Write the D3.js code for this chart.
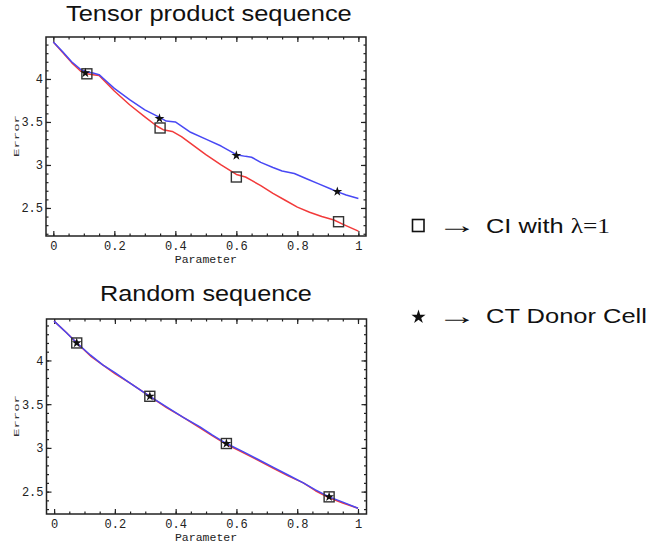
<!DOCTYPE html>
<html>
<head>
<meta charset="utf-8">
<script src="https://cdn.jsdelivr.net/npm/d3@7"></script>
<style>
  body { margin: 0; background: #fff; }
  svg { display: block; }
</style>
</head>
<body>
<div id="main"></div>
<script>
/*********************************************************
 * Data
 *********************************************************/

const xTicks = [0, 0.2, 0.4, 0.6, 0.8, 1];
const yTicks = [2.5, 3, 3.5, 4];

// Tensor product sequence
const tensorBlueX = [0, 0.03, 0.06, 0.09, 0.11, 0.13, 0.15, 0.175, 0.2, 0.25, 0.3, 0.35, 0.37, 0.4, 0.45, 0.5, 0.55, 0.6, 0.63, 0.65, 0.68, 0.72, 0.75, 0.79, 0.83, 0.87, 0.91, 0.93, 0.96, 1.0];
const tensorBlueY = [4.43, 4.32, 4.2, 4.11, 4.08, 4.07, 4.05, 3.97, 3.89, 3.76, 3.64, 3.55, 3.51, 3.5, 3.38, 3.3, 3.22, 3.12, 3.1, 3.09, 3.03, 2.97, 2.93, 2.9, 2.84, 2.78, 2.72, 2.69, 2.65, 2.61];
const tensorRedX = [0, 0.03, 0.06, 0.09, 0.11, 0.13, 0.15, 0.175, 0.2, 0.25, 0.3, 0.34, 0.36, 0.39, 0.42, 0.45, 0.5, 0.55, 0.6, 0.63, 0.65, 0.68, 0.72, 0.76, 0.8, 0.84, 0.88, 0.92, 0.95, 1.0];
const tensorRedY = [4.43, 4.31, 4.19, 4.09, 4.06, 4.05, 4.04, 3.95, 3.86, 3.7, 3.56, 3.45, 3.41, 3.39, 3.33, 3.25, 3.12, 3.0, 2.89, 2.86, 2.82, 2.76, 2.67, 2.59, 2.51, 2.45, 2.4, 2.36, 2.31, 2.23];
const tensorSquareX = [0.11, 0.35, 0.6, 0.935];
const tensorSquareY = [4.06, 3.43, 2.86, 2.34];
const tensorStarX = [0.105, 0.348, 0.6, 0.931];
const tensorStarY = [4.07, 3.54, 3.11, 2.69];

// Random sequence
const randomX = [0, 0.04, 0.075, 0.12, 0.16, 0.2, 0.25, 0.315, 0.37, 0.425, 0.48, 0.52, 0.567, 0.62, 0.67, 0.72, 0.77, 0.82, 0.86, 0.905, 0.95, 1.0];
const randomBlueY = [4.45, 4.32, 4.2, 4.06, 3.95, 3.86, 3.74, 3.59, 3.47, 3.35, 3.24, 3.15, 3.05, 2.96, 2.87, 2.78, 2.69, 2.6, 2.52, 2.44, 2.38, 2.31];
const randomRedY = [4.45, 4.32, 4.2, 4.05, 3.95, 3.85, 3.74, 3.59, 3.46, 3.35, 3.23, 3.14, 3.04, 2.95, 2.86, 2.77, 2.68, 2.6, 2.51, 2.43, 2.37, 2.31];
const randomMarkX = [0.0745, 0.315, 0.567, 0.905];
const randomMarkY = [4.2, 3.59, 3.05, 2.44];

/*********************************************************
 * Layout
 *********************************************************/

const svgWidth = 649;
const svgHeight = 545;
const blue = '#4848f4';
const red = '#f23a3a';
const ink = '#222';
const monoFont = '"Liberation Mono", "DejaVu Sans Mono", monospace';
const sansFont = '"Liberation Sans", Arial, sans-serif';
const serifFont = '"Liberation Serif", "Times New Roman", serif';

const svg = d3
  .select('#main')
  .append('svg')
  .attr('width', svgWidth)
  .attr('height', svgHeight);

// squeeze / stretch a text horizontally so it covers a given width
function fitText(sel, width) {
  const node = sel.node();
  const w = node.getComputedTextLength();
  const x0 = +sel.attr('x');
  sel.attr('transform', `translate(${x0},0) scale(${width / w},1) translate(${-x0},0)`);
}

const panels = [
  {
    title: 'Tensor product sequence',
    titleX: 66, titleY: 21, titleW: 286,
    left: 46, right: 366, top: 37, bottom: 236,
    xDomain: [-0.024, 1.025], yDomain: [2.174, 4.488],
    yMinorFrom: 2.2,
    lines: [
      { xs: tensorRedX, ys: tensorRedY, color: red },
      { xs: tensorBlueX, ys: tensorBlueY, color: blue }
    ],
    squares: [tensorSquareX, tensorSquareY],
    stars: [tensorStarX, tensorStarY],
    labelY: 136
  },
  {
    title: 'Random sequence',
    titleX: 100, titleY: 301, titleW: 212,
    left: 46.5, right: 366.5, top: 319, bottom: 514,
    xDomain: [-0.025, 1.028], yDomain: [2.244, 4.474],
    yMinorFrom: 2.3,
    lines: [
      { xs: randomX, ys: randomRedY, color: red },
      { xs: randomX, ys: randomBlueY, color: blue }
    ],
    squares: [randomMarkX, randomMarkY],
    stars: [randomMarkX, randomMarkY],
    labelY: 416
  }
];

panels.forEach(drawPanel);
drawLegend();

/*********************************************************
 * Panels
 *********************************************************/

function drawPanel(p) {
  const g = svg.append('g');

  const x = d3.scaleLinear().domain(p.xDomain).range([p.left, p.right]);
  const y = d3.scaleLinear().domain(p.yDomain).range([p.bottom, p.top]);

  const xMinor = d3.range(0, 1.0001, 0.05);
  const yMinor = d3.range(p.yMinorFrom, 4.46, 0.1);

  // title
  const title = g
    .append('text')
    .attr('x', p.titleX)
    .attr('y', p.titleY)
    .style('font-family', sansFont)
    .style('font-size', '22px')
    .attr('fill', '#111')
    .text(p.title);
  fitText(title, p.titleW);

  // minor ticks, all four sides, pointing inward
  const minor = [
    [d3.axisBottom(x).tickValues(xMinor), `translate(0,${p.bottom})`],
    [d3.axisTop(x).tickValues(xMinor), `translate(0,${p.top})`],
    [d3.axisLeft(y).tickValues(yMinor), `translate(${p.left},0)`],
    [d3.axisRight(y).tickValues(yMinor), `translate(${p.right},0)`]
  ];
  minor.forEach(([ax, tr]) => {
    g.append('g')
      .attr('transform', tr)
      .call(ax.tickSize(-2.5).tickFormat(''))
      .call(a => a.select('.domain').remove())
      .call(a => a.selectAll('line').attr('stroke', ink).attr('stroke-width', 1));
  });

  // major ticks
  const xBottom = g
    .append('g')
    .attr('transform', `translate(0,${p.bottom})`)
    .call(d3.axisBottom(x).tickValues(xTicks).tickSize(-5).tickPadding(5.5).tickFormat(d => String(d)));
  const yLeft = g
    .append('g')
    .attr('transform', `translate(${p.left},0)`)
    .call(d3.axisLeft(y).tickValues(yTicks).tickSize(-5).tickPadding(3).tickFormat(d => String(d)));
  g.append('g')
    .attr('transform', `translate(0,${p.top})`)
    .call(d3.axisTop(x).tickValues(xTicks).tickSize(-5).tickFormat(''));
  g.append('g')
    .attr('transform', `translate(${p.right},0)`)
    .call(d3.axisRight(y).tickValues(yTicks).tickSize(-5).tickFormat(''));

  g.selectAll('.domain').remove();
  g.selectAll('.tick line').attr('stroke', ink).attr('stroke-width', 1.2);
  [xBottom, yLeft].forEach(a =>
    a.selectAll('text')
      .style('font-family', monoFont)
      .style('font-size', '12px')
      .attr('fill', '#222')
  );

  // axis titles
  g.append('text')
    .attr('x', (x(0) + x(1)) / 2)
    .attr('y', p.bottom + 27)
    .attr('text-anchor', 'middle')
    .style('font-family', monoFont)
    .style('font-size', '11.5px')
    .attr('fill', '#222')
    .text('Parameter');

  g.append('text')
    .attr('transform', `translate(19,${p.labelY}) rotate(-90)`)
    .attr('text-anchor', 'middle')
    .attr('textLength', 42)
    .attr('lengthAdjust', 'spacingAndGlyphs')
    .style('font-family', monoFont)
    .style('font-size', '8px')
    .attr('fill', '#333')
    .text('Error');

  // curves
  const line = d3
    .line()
    .x(d => x(d[0]))
    .y(d => y(d[1]));

  p.lines.forEach(l => {
    g.append('path')
      .datum(d3.zip(l.xs, l.ys))
      .attr('d', line)
      .attr('fill', 'none')
      .attr('stroke', l.color)
      .attr('stroke-width', 1.5)
      .attr('stroke-linejoin', 'round');
  });

  // markers
  const sq = 10;
  g.selectAll('.sq')
    .data(d3.zip(p.squares[0], p.squares[1]))
    .enter()
    .append('rect')
    .attr('class', 'sq')
    .attr('x', d => x(d[0]) - sq / 2)
    .attr('y', d => y(d[1]) - sq / 2)
    .attr('width', sq)
    .attr('height', sq)
    .attr('fill', 'none')
    .attr('stroke', '#333')
    .attr('stroke-width', 1.4);

  g.selectAll('.star')
    .data(d3.zip(p.stars[0], p.stars[1]))
    .enter()
    .append('path')
    .attr('class', 'star')
    .attr('transform', d => `translate(${x(d[0])},${y(d[1])})`)
    .attr('d', d3.symbol(d3.symbolStar, 30))
    .attr('fill', '#111');

  // frame
  g.append('rect')
    .attr('x', p.left)
    .attr('y', p.top)
    .attr('width', p.right - p.left)
    .attr('height', p.bottom - p.top)
    .attr('fill', 'none')
    .attr('stroke', ink)
    .attr('stroke-width', 1.5);
}

/*********************************************************
 * Legend
 *********************************************************/

function drawLegend() {
  const g = svg.append('g');

  // square -> CI with lambda = 1
  g.append('rect')
    .attr('x', 412.5)
    .attr('y', 219.5)
    .attr('width', 11.5)
    .attr('height', 12)
    .attr('fill', 'none')
    .attr('stroke', '#111')
    .attr('stroke-width', 1.6);

  // star -> CT Donor Cell
  g.append('path')
    .attr('transform', 'translate(418.5,317)')
    .attr('d', d3.symbol(d3.symbolStar, 62))
    .attr('fill', '#111');

  [233, 324].forEach(by => {
    const a = g
      .append('text')
      .attr('x', 437)
      .attr('y', by)
      .style('font-family', sansFont)
      .style('font-size', '24px')
      .attr('fill', '#111')
      .text('\u2192');
    fitText(a, 40);
  });

  const t1 = g
    .append('text')
    .attr('x', 486)
    .attr('y', 233)
    .style('font-size', '21px')
    .attr('fill', '#111');
  t1.append('tspan').style('font-family', sansFont).text('CI with ');
  t1.append('tspan').style('font-family', serifFont).text('\u03bb=1');
  fitText(t1, 124);

  const t2 = g
    .append('text')
    .attr('x', 486)
    .attr('y', 323)
    .style('font-family', sansFont)
    .style('font-size', '21px')
    .attr('fill', '#111')
    .text('CT Donor Cell');
  fitText(t2, 161);
}
</script>
</body>
</html>
